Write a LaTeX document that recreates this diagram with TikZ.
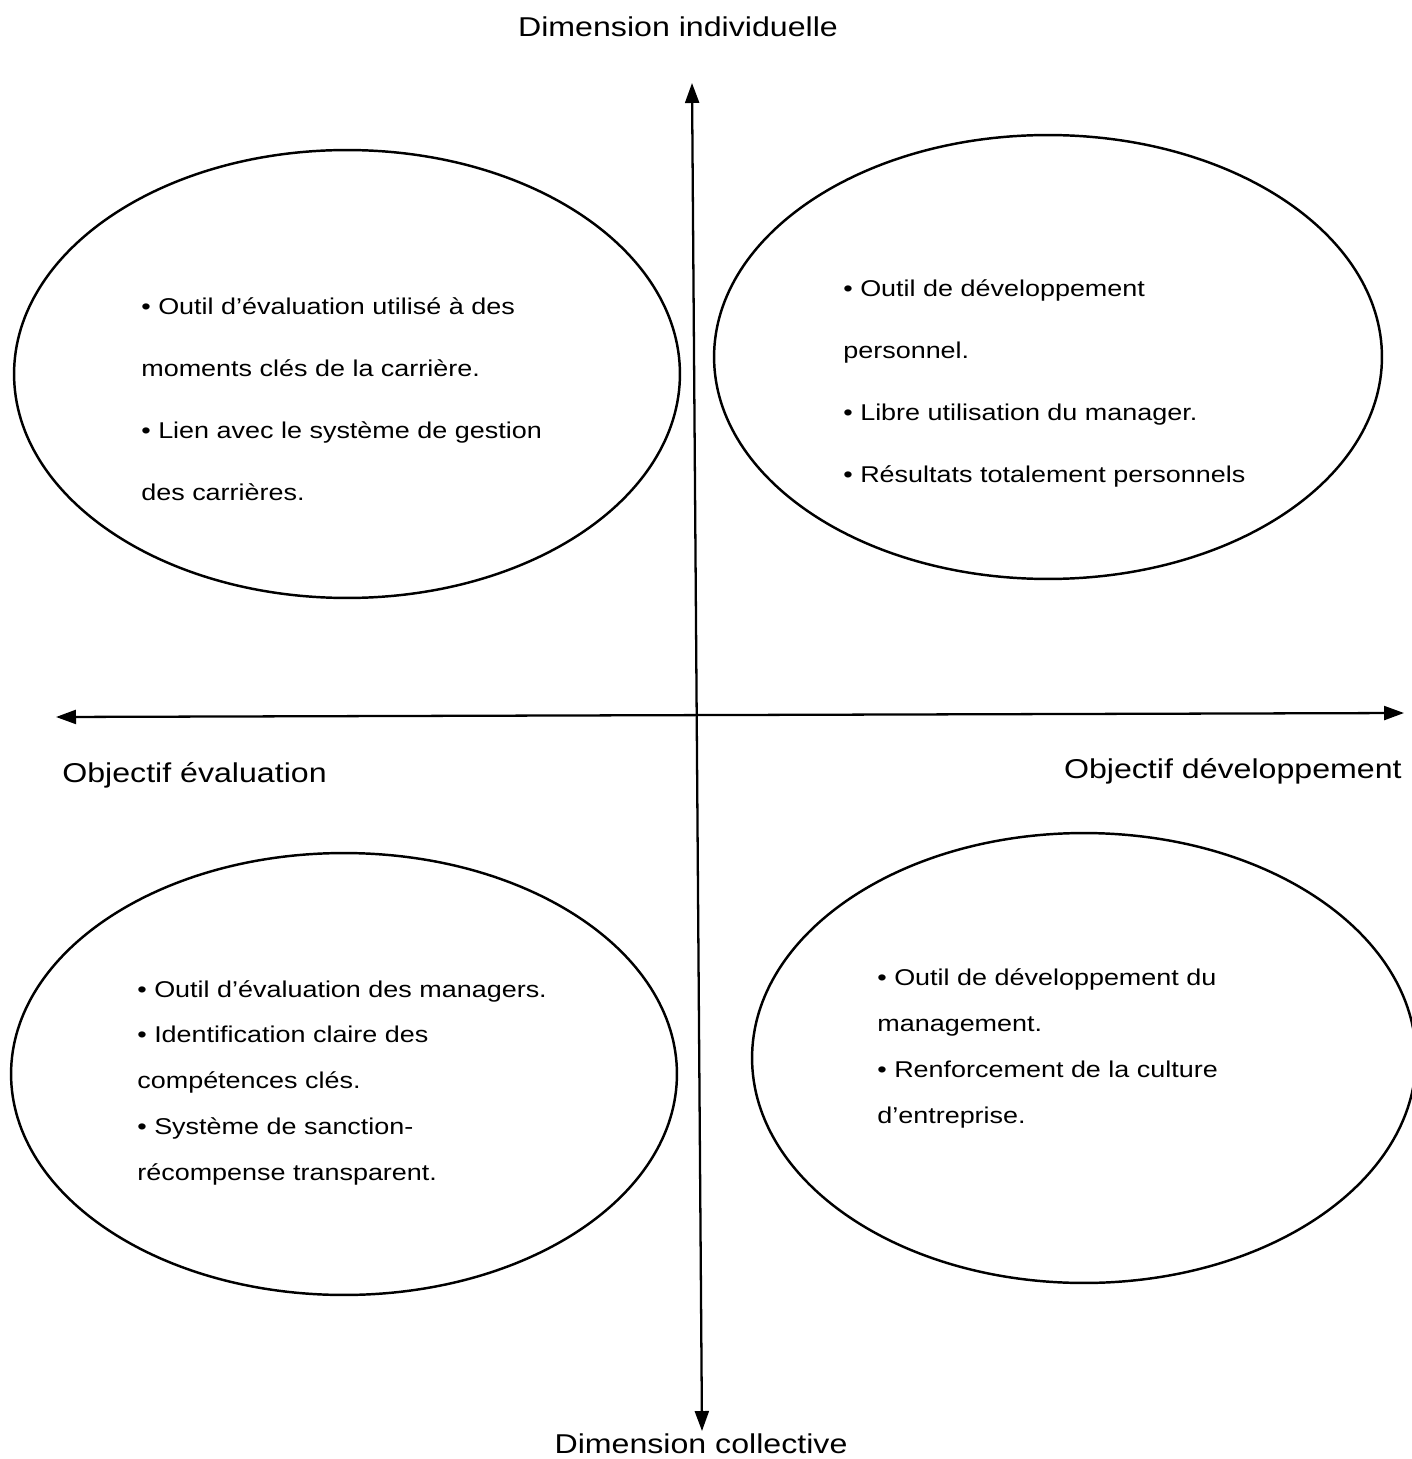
\documentclass[tikz,border=0pt]{standalone}
\usepackage{fontspec}
\setmainfont{Liberation Sans}[FakeStretch=1.18]
\usetikzlibrary{shapes.geometric}
\usetikzlibrary{arrows.meta}

\tikzset{
  bulle/.style={draw, ellipse, line width=1.4pt, inner sep=0pt},
  liste/.style={anchor=base west, align=left, inner sep=0pt},
  large/.style={font=\fontsize{13pt}{35.2pt}\selectfont},
  serre/.style={font=\fontsize{13pt}{26pt}\selectfont},
  titre/.style={font=\fontsize{15.5pt}{18pt}\selectfont, inner sep=0pt},
  axe/.style={line width=1.3pt, {Triangle[length=0.4cm,width=0.28cm]}-{Triangle[length=0.4cm,width=0.28cm]}}
}

\begin{document}
\begin{tikzpicture}[x=0.02cm, y=-0.02cm]
  \useasboundingbox (0,0) rectangle (1411,1459);

  % les quatre bulles
  \node[bulle, minimum width=13.32cm, minimum height=8.96cm] (evalind) at (347,374) {};
  \node[bulle, minimum width=13.36cm, minimum height=8.88cm] (devind) at (1048,357) {};
  \node[bulle, minimum width=13.32cm, minimum height=8.84cm] (evalcol) at (344,1074) {};
  \node[bulle, minimum width=13.28cm, minimum height=9.0cm] (devcol) at (1084,1058) {};

  % textes des bulles (placés par la ligne de base de la dernière ligne)
  \node[liste, large] (txtevalind) at (141,500) {• Outil d’évaluation utilisé à des\\moments clés de la carrière.\\• Lien avec le système de gestion\\des carrières.};
  \node[liste, large] (txtdevind) at (843,482) {• Outil de développement\\personnel.\\• Libre utilisation du manager.\\• Résultats totalement personnels};
  \node[liste, serre] (txtevalcol) at (137,1180) {• Outil d’évaluation des managers.\\• Identification claire des\\compétences clés.\\• Système de sanction-\\récompense transparent.};
  \node[liste, serre] (txtdevcol) at (877,1123) {• Outil de développement du\\management.\\• Renforcement de la culture\\d’entreprise.};

  % axes
  \coordinate (haut) at (692,83);
  \coordinate (bas) at (702,1431);
  \coordinate (gauche) at (56,717);
  \coordinate (droite) at (1404,713);
  \draw[axe] (haut) -- (bas);
  \draw[axe] (gauche) -- (droite);

  % libellés des axes
  \node[titre, anchor=base] (individuelle) at (678,37) {Dimension individuelle};
  \node[titre, anchor=base] (collective) at (701,1453) {Dimension collective};
  \node[titre, anchor=base west] (evaluation) at (62,782) {Objectif évaluation};
  \node[titre, anchor=base east] (developpement) at (1402,778) {Objectif développement};
\end{tikzpicture}
\end{document}
